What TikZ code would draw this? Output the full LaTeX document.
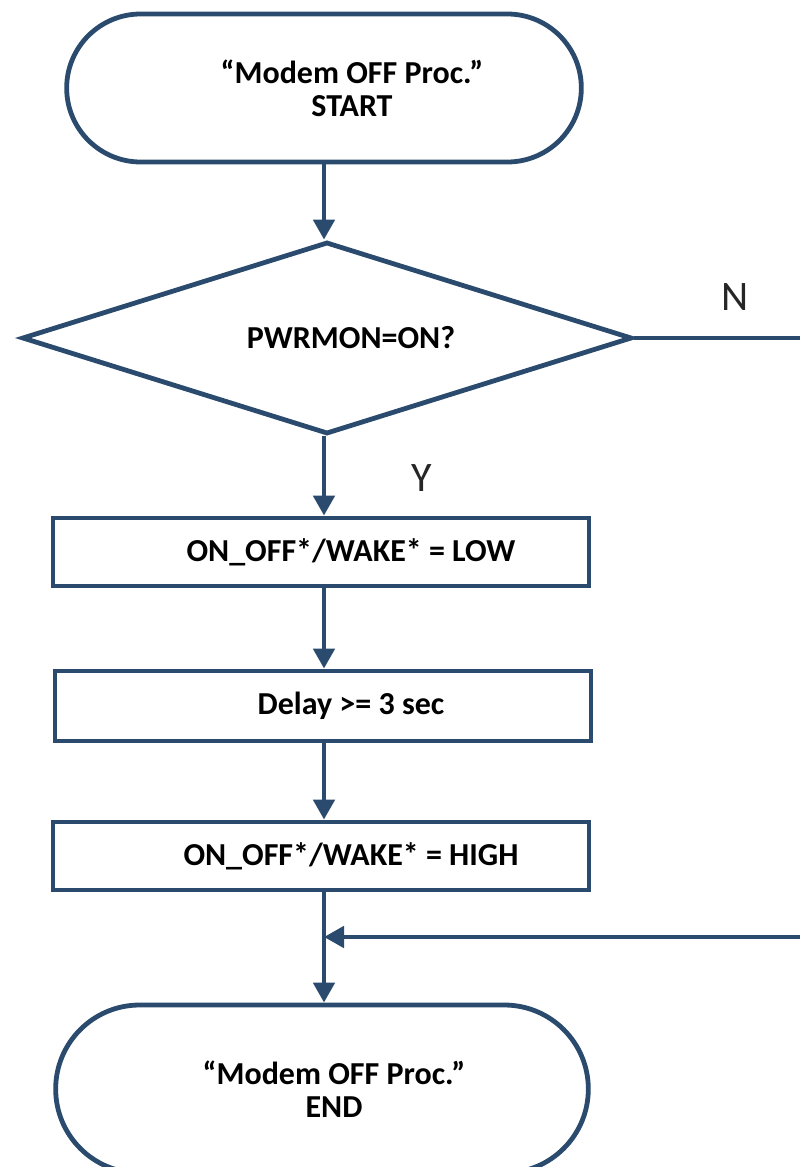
\documentclass[tikz,border=0pt]{standalone}
\usepackage{fontspec}
\setmainfont{Carlito}
\usetikzlibrary{shapes.geometric, shapes.misc, arrows.meta, positioning}

\definecolor{flowblue}{HTML}{2A4B6E}

\begin{document}
\begin{tikzpicture}[x=0.5pt, y=-0.5pt,
    term/.style={rounded rectangle, draw=flowblue, line width=2.4pt, minimum width=254pt, minimum height=74pt},
    proc/.style={rectangle, draw=flowblue, line width=2.4pt, minimum width=268pt, minimum height=34pt},
    decision/.style={diamond, draw=flowblue, line width=2.4pt, minimum width=305pt, minimum height=96pt, inner sep=0pt},
    txt/.style={font=\bfseries\fontsize{16}{16.5}\selectfont, align=center},
    yn/.style={font=\fontsize{21}{24}\selectfont, text=black!85},
    flow/.style={draw=flowblue, line width=2.4pt, -{Triangle[length=10pt, width=10.5pt]}}]
    \useasboundingbox (0,0) rectangle (800,1167);

    \node (start) [term, minimum width=264pt] at (324,88) {};
    \node (startTxt) [txt] at ([xshift=14pt]start.center) {“Modem OFF Proc.”\\START};
    \node (pwr) [decision] at (327,338) {};
    \node (pwrTxt) [txt] at ([xshift=12pt]pwr.center) {PWRMON=ON?};
    \node (low) [proc] at (321,552) {};
    \node (lowTxt) [txt] at ([xshift=15pt]low.center) {ON\_OFF*/WAKE* = LOW};
    \node (delay) [proc, minimum height=35pt] at (323,706) {};
    \node (delayTxt) [txt] at ([xshift=14pt]delay.center) {Delay >= 3 sec};
    \node (high) [proc] at (321,856) {};
    \node (highTxt) [txt] at ([xshift=15pt]high.center) {ON\_OFF*/WAKE* = HIGH};
    \node (stop) [term, minimum width=273pt, minimum height=84pt] at (322,1089) {};
    \node (stopTxt) [txt] at ([xshift=6pt]stop.center) {“Modem OFF Proc.”\\END};

    \node (noLbl) [yn] at (735,297) {N};
    \node (yesLbl) [yn] at (422,478) {Y};

    \coordinate (noOut) at (800,338);
    \coordinate (noBack) at (800,937);

    % main line
    \draw [flow] (start.south) -- (start.south |- pwr.north);
    \draw [flow] (start.south |- pwr.south) -- (start.south |- low.north);
    \draw [flow] (start.south |- low.south) -- (start.south |- delay.north);
    \draw [flow] (start.south |- delay.south) -- (start.south |- high.north);
    \draw [flow] (start.south |- high.south) -- (start.south |- stop.north);
    % N branch
    \draw [draw=flowblue, line width=2.4pt] (pwr.east) -- (noOut);
    \draw [flow] (noBack) -- (noBack -| start.south);
\end{tikzpicture}
\end{document}
